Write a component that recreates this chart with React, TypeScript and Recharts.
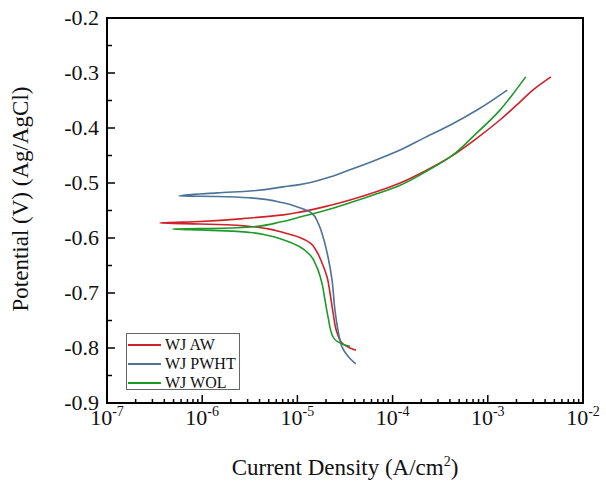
import React from 'react';
import { LineChart, Line, XAxis, YAxis, Legend, ReferenceArea } from 'recharts';

// WJ AW: cathodic end -> corrosion tip -> anodic end
const awCurrent = [4.13e-5, 3.57e-5, 2.94e-5, 2.62e-5, 2.37e-5, 2.2e-5, 2.05e-5, 1.81e-5, 1.6e-5, 1.36e-5, 1.06e-5, 7.1e-6, 4.8e-6, 3.2e-6, 1.8e-6, 9.5e-7, 3.6e-7, 9.5e-7, 3.2e-6, 7.1e-6, 1.06e-5, 1.95e-5, 3.57e-5, 6.5e-5, 1.2e-4, 2.2e-4, 4.0e-4, 7.35e-4, 1.35e-3, 2.2e-3, 2.97e-3, 4.6e-3];
const awPotential = [-0.804, -0.800, -0.791, -0.773, -0.736, -0.700, -0.671, -0.645, -0.625, -0.609, -0.599, -0.590, -0.583, -0.579, -0.576, -0.5745, -0.5727, -0.570, -0.5636, -0.558, -0.553, -0.543, -0.531, -0.517, -0.500, -0.478, -0.453, -0.421, -0.385, -0.352, -0.331, -0.307];

// WJ PWHT
const pwhtCurrent = [4.1e-5, 3.4e-5, 2.94e-5, 2.8e-5, 2.48e-5, 2.31e-5, 2.1e-5, 1.86e-5, 1.65e-5, 1.42e-5, 1.06e-5, 7.1e-6, 3.2e-6, 1.43e-6, 5.7e-7, 1.43e-6, 3.2e-6, 7.1e-6, 1.06e-5, 1.95e-5, 3.57e-5, 6.5e-5, 1.2e-4, 2.2e-4, 4.0e-4, 8.1e-4, 1.6e-3];
const pwhtPotential = [-0.829, -0.815, -0.798, -0.785, -0.731, -0.676, -0.635, -0.598, -0.573, -0.555, -0.545, -0.536, -0.527, -0.5245, -0.5236, -0.518, -0.5145, -0.507, -0.503, -0.492, -0.476, -0.459, -0.440, -0.417, -0.395, -0.365, -0.331];

// WJ WOL
const wolCurrent = [3.57e-5, 3.0e-5, 2.37e-5, 2.1e-5, 1.95e-5, 1.81e-5, 1.6e-5, 1.36e-5, 1.06e-5, 7.1e-6, 4.8e-6, 3.2e-6, 1.8e-6, 9.5e-7, 4.9e-7, 9.5e-7, 3.2e-6, 6.6e-6, 1.06e-5, 1.95e-5, 3.57e-5, 6.5e-5, 1.2e-4, 2.2e-4, 4.0e-4, 7.35e-4, 1.35e-3, 1.84e-3, 2.5e-3];
const wolPotential = [-0.797, -0.793, -0.780, -0.744, -0.713, -0.682, -0.653, -0.631, -0.616, -0.603, -0.595, -0.590, -0.587, -0.5855, -0.5836, -0.583, -0.580, -0.571, -0.562, -0.550, -0.536, -0.521, -0.504, -0.480, -0.453, -0.412, -0.367, -0.338, -0.307];

const seriesNames = ['WJ AW', 'WJ PWHT', 'WJ WOL'];
const seriesColors = ['#d0202a', '#4d7397', '#1e9a28'];

const decades = [1e-7, 1e-6, 1e-5, 1e-4, 1e-3, 1e-2];
const logSteps = [1, 2, 3, 4, 5, 6, 7, 8, 9];
const xTicks = decades.flatMap((d, k) => (k < decades.length - 1 ? logSteps.map((m) => d * m) : [d]));
const yTicks = [-0.9, -0.85, -0.8, -0.75, -0.7, -0.65, -0.6, -0.55, -0.5, -0.45, -0.4, -0.35, -0.3, -0.25, -0.2];

const toPoints = (cur: number[], pot: number[]) => cur.map((i, k) => ({ i, e: pot[k] }));
const awData = toPoints(awCurrent, awPotential);
const pwhtData = toPoints(pwhtCurrent, pwhtPotential);
const wolData = toPoints(wolCurrent, wolPotential);

const FONT = '"Liberation Serif", "Times New Roman", serif';

const XTick = (props: any) => {
  const { x, y, payload } = props;
  const lg = Math.log10(payload.value);
  const major = Math.abs(lg - Math.round(lg)) < 1e-6;
  return (
    <g>
      <line x1={x} y1={y} x2={x} y2={y - (major ? 8 : 4)} stroke="#000" strokeWidth={1.5} />
      {major && (
        <text x={x} y={y + 22} textAnchor="middle" fontFamily={FONT} fontSize={22} fill="#111">
          10<tspan dy={-9} fontSize={14}>{Math.round(lg)}</tspan>
        </text>
      )}
    </g>
  );
};

const YTick = (props: any) => {
  const { x, y, payload } = props;
  const v = payload.value;
  const major = Math.abs(v * 10 - Math.round(v * 10)) < 1e-6;
  return (
    <g>
      <line x1={x} y1={y} x2={x + (major ? 8 : 5)} y2={y} stroke="#000" strokeWidth={1.5} />
      {major && (
        <text x={x - 8} y={y - 1} textAnchor="end" dominantBaseline="central" fontFamily={FONT} fontSize={22} fill="#111">
          {v.toFixed(1)}
        </text>
      )}
    </g>
  );
};

const LegendBox = () => (
  <div style={{ width: 114, height: 57, border: '1.5px solid #666', background: '#fff', boxSizing: 'border-box', paddingTop: 1 }}>
    {seriesNames.map((name, k) => (
      <div key={name} style={{ display: 'flex', alignItems: 'center', height: 19 }}>
        <span style={{ display: 'inline-block', width: 33, height: 2, marginLeft: 1, background: seriesColors[k] }} />
        <span style={{ marginLeft: 4, fontFamily: FONT, fontSize: 16, color: '#111', lineHeight: '19px' }}>{name}</span>
      </div>
    ))}
  </div>
);

export default function App() {
  return (
    <div style={{ position: 'absolute', left: 0, top: 0, background: '#fff' }}>
      <LineChart width={606} height={483} margin={{ top: 18, right: 23, bottom: 0, left: 0 }}>
        <XAxis
          dataKey="i"
          type="number"
          scale="log"
          domain={[1e-7, 1e-2]}
          allowDataOverflow
          ticks={xTicks}
          interval={0}
          height={80}
          tickSize={0}
          tickMargin={0}
          tick={<XTick />}
          axisLine={{ stroke: '#000', strokeWidth: 2 }}
          label={() => (
            <text x={345} y={475} textAnchor="middle" fontFamily={FONT} fontSize={23} fill="#111">
              Current Density (A/cm<tspan dy={-9} fontSize={14}>2</tspan><tspan dy={9}>)</tspan>
            </text>
          )}
        />
        <YAxis
          dataKey="e"
          type="number"
          domain={[-0.9, -0.2]}
          allowDataOverflow
          ticks={yTicks}
          interval={0}
          width={107}
          tickSize={0}
          tickMargin={0}
          tick={<YTick />}
          axisLine={{ stroke: '#000', strokeWidth: 2 }}
          label={() => (
            <text x={28} y={199} transform="rotate(-90, 28, 199)" textAnchor="middle" fontFamily={FONT} fontSize={23} fill="#111">
              Potential (V) (Ag/AgCl)
            </text>
          )}
        />
        <ReferenceArea x1={1e-7} x2={1e-2} y1={-0.9} y2={-0.2} fill="none" stroke="#000" strokeWidth={2} ifOverflow="visible" />
        <Legend
          layout="vertical"
          align="center"
          verticalAlign="middle"
          wrapperStyle={{ left: 126, top: 333, width: 'auto' }}
          content={() => <LegendBox />}
        />
        <Line data={awData} dataKey="e" name={seriesNames[0]} type="monotoneY" stroke={seriesColors[0]} strokeWidth={1.6} dot={false} isAnimationActive={false} />
        <Line data={pwhtData} dataKey="e" name={seriesNames[1]} type="monotoneY" stroke={seriesColors[1]} strokeWidth={1.6} dot={false} isAnimationActive={false} />
        <Line data={wolData} dataKey="e" name={seriesNames[2]} type="monotoneY" stroke={seriesColors[2]} strokeWidth={1.6} dot={false} isAnimationActive={false} />
      </LineChart>
    </div>
  );
}
